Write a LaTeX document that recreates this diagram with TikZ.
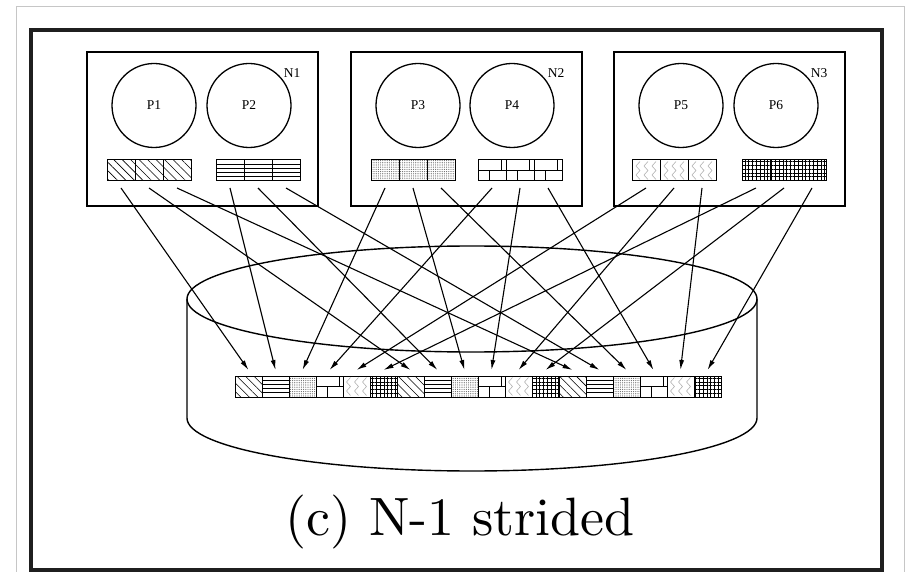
\documentclass[tikz,border=0pt]{standalone}
\usepackage{fontspec}
\usepackage{graphicx}
\newfontfamily\labelfont{Liberation Serif}
\usetikzlibrary{patterns.meta,arrows.meta,calc}

\begin{document}
\begin{tikzpicture}[x=1pt,y=-1pt,
  nodebox/.style={draw,line width=1.3pt,minimum width=231pt,minimum height=154pt,
    inner sep=0pt,outer sep=0pt,anchor=north west},
  proc/.style={draw,circle,line width=1.3pt,minimum size=84pt,inner sep=0pt,
    font=\labelfont\fontsize{13.5}{14}\selectfont},
  nlabel/.style={font=\labelfont\fontsize{13.5}{14}\selectfont,inner sep=0pt},
  cell/.style={draw,line width=1pt,minimum height=21pt,inner sep=0pt,outer sep=0pt,
    anchor=north west},
  sw/.style={minimum width=28pt},
  tw/.style={minimum width=27pt},
  patA/.style={pattern={Lines[angle=-45,distance=6pt,line width=0.6pt]}},
  patB/.style={},
  patC/.style={pattern={Dots[distance=2.2pt,radius=0.6pt]},pattern color=black!60},
  patD/.style={},
  patE/.style={},
  patF/.style={pattern={Hatch[angle=0,distance=3.8pt,line width=0.6pt]}},
  arr/.style={line width=1.1pt,-{Latex[length=10pt,width=5pt]}},
  cyl/.style={line width=1.4pt}
]
\useasboundingbox (0,0) rectangle (911,572);

% outer frames
\draw[gray!45,line width=0.8pt] (16,580) -- (16,6) -- (904,6) -- (904,580);
\draw[black!88,line width=4pt] (31,30) rectangle (882,570);

% the three nodes with two processes each
\foreach \i/\L in {1/87,2/351,3/614} {
  \node[nodebox] (N\i) at (\L,52) {};
  \node[nlabel] (N\i-label) at (\L+205,73) {N\i};
}
\foreach \p/\x in {1/154,2/249,3/418,4/512,5/681,6/776} {
  \node[proc] (P\p) at (\x,105.5) {P\p};
}

% buffers of each process
\foreach \k in {0,1,2} {
  \node[cell,sw,patA] (s1-\k) at (107+28*\k,160) {};
  \node[cell,sw,patB] (s2-\k) at (216+28*\k,160) {};
  \node[cell,sw,patC] (s3-\k) at (371+28*\k,160) {};
  \node[cell,sw,patD] (s4-\k) at (478+28*\k,160) {};
  \node[cell,sw,patE] (s5-\k) at (632+28*\k,160) {};
  \node[cell,sw,patF] (s6-\k) at (742+28*\k,160) {};
}

% disk (cylinder)
\draw[cyl] (472,299) ellipse [x radius=285pt, y radius=53pt];
\draw[cyl] (187,299) -- (187,418)
  arc[start angle=180, end angle=360, x radius=285pt, y radius=53pt]
  -- (757,299);

% shared file, strided layout
\foreach \k in {0,1,2} {
  \node[cell,tw,patA] (t1-\k) at (235+162*\k,376) {};
  \node[cell,tw,patB] (t2-\k) at (262+162*\k,376) {};
  \node[cell,tw,patC] (t3-\k) at (289+162*\k,376) {};
  \node[cell,tw,patD] (t4-\k) at (316+162*\k,376) {};
  \node[cell,tw,patE] (t5-\k) at (343+162*\k,376) {};
  \node[cell,tw,patF] (t6-\k) at (370+162*\k,376) {};
}

% horizontal-line fill
\foreach \c in {s2-0,s2-1,s2-2,t2-0,t2-1,t2-2} {
  \foreach \f in {0.2,0.4,0.6,0.8}
    \draw[line width=0.8pt] ($(\c.north west)!\f!(\c.south west)$)
      -- ($(\c.north east)!\f!(\c.south east)$);
}
% brick fill
\foreach \c in {s4-0,s4-1,s4-2,t4-0,t4-1,t4-2} {
  \draw[line width=0.8pt] (\c.west) -- (\c.east)
    ($(\c.north west)!0.85!(\c.north east)$) -- ($(\c.west)!0.85!(\c.east)$)
    ($(\c.south west)!0.42!(\c.south east)$) -- ($(\c.west)!0.42!(\c.east)$);
}
% wavy fill
\foreach \c in {s5-0,s5-1,s5-2,t5-0,t5-1,t5-2} {
  \begin{scope}[shift={(\c.center)}]
    \foreach \dx in {-8,0,8}
      \draw[gray!60,line width=0.6pt] (\dx+2,-9) -- (\dx-2,-4.5) -- (\dx+2,0)
        -- (\dx-2,4.5) -- (\dx+2,9);
  \end{scope}
}

% writes from every buffer into the shared file
\foreach \p in {1,...,6} {
  \foreach \k in {0,1,2} {
    \draw[arr] ([yshift=-7pt]s\p-\k.south) -- ([yshift=6pt]t\p-\k.north);
  }
}

% caption
\node[anchor=base,inner sep=0pt] (title) at (460,535) {\scalebox{5.4}{(c) N-1 strided}};
\end{tikzpicture}
\end{document}
